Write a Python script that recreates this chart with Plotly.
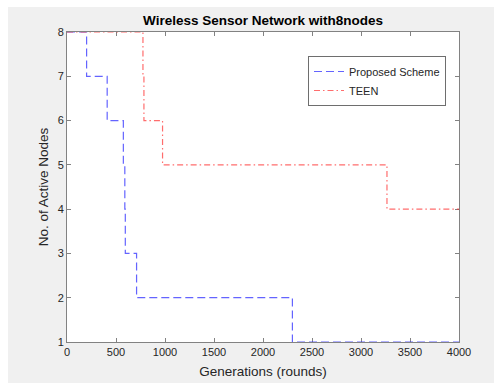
import plotly.graph_objects as go

# Data (stairs: value y[i] holds from x[i] to x[i+1])
proposed_x = [0, 200, 410, 575, 590, 595, 710, 2300, 4000]
proposed_y = [8, 7, 6, 5, 4, 3, 2, 1, 1]
teen_x = [0, 775, 785, 975, 3265, 4000]
teen_y = [8, 7, 6, 5, 4, 4]
x_ticks = [0, 500, 1000, 1500, 2000, 2500, 3000, 3500, 4000]
y_ticks = [1, 2, 3, 4, 5, 6, 7, 8]

W, H = 494, 383
L, R, T, B = 67, 35, 32, 41
pw, ph = W - L - R, H - T - B

fig = go.Figure()
fig.add_trace(go.Scatter(
    x=proposed_x, y=proposed_y, mode="lines", name="Proposed Scheme",
    line=dict(shape="hv", color="rgba(40,40,255,0.72)", width=1.2, dash="8px,4px"),
))
fig.add_trace(go.Scatter(
    x=teen_x, y=teen_y, mode="lines", name="TEEN",
    line=dict(shape="hv", color="rgba(255,40,40,0.68)", width=1.2, dash="6px,3px,1.5px,3px"),
))

axis_col = "#828282"
txt_col = "#262626"
font = "Liberation Sans, Arial, Helvetica, sans-serif"

# gray figure background with white strip on left and top
gx0 = (8 - L) / pw
gy1 = (H - B - 7) / ph
fig.add_shape(type="rect", xref="paper", yref="paper", x0=-1, x1=gx0, y0=-1, y1=2,
              fillcolor="white", line_width=0, layer="below")
fig.add_shape(type="rect", xref="paper", yref="paper", x0=-1, x1=2, y0=gy1, y1=2,
              fillcolor="white", line_width=0, layer="below")

fig.update_layout(
    width=W, height=H, autosize=False,
    margin=dict(l=L, r=R, t=T, b=B, pad=0),
    paper_bgcolor="#f0f0f0", plot_bgcolor="white",
    font=dict(family=font, size=11, color=txt_col),
    title=dict(text="<b>Wireless Sensor Network with8nodes</b>", x=(L + pw / 2) / W, xanchor="center",
               y=1 - 20 / H, yanchor="middle", font=dict(size=13.5, color="#000000")),
    showlegend=True,
    legend=dict(x=(308 - L) / pw, y=(H - B - 56) / ph, xanchor="left", yanchor="top",
                bgcolor="white", bordercolor="#6e6e6e", borderwidth=1,
                font=dict(size=11, color=txt_col), tracegroupgap=0),
    xaxis=dict(range=[0, 4000], tickvals=x_ticks, ticktext=[str(v) for v in x_ticks],
               showgrid=False, zeroline=False, showline=True, linecolor=axis_col, linewidth=1,
               mirror="ticks", ticks="inside", ticklen=4, tickcolor=axis_col, layer="below traces",
               tickfont=dict(size=11, color=txt_col), automargin=False,
               title=dict(text="Generations (rounds)", font=dict(size=13.5, color=txt_col), standoff=9)),
    yaxis=dict(range=[1, 8], tickvals=y_ticks, ticktext=[str(v) for v in y_ticks],
               showgrid=False, zeroline=False, showline=True, linecolor=axis_col, linewidth=1,
               mirror="ticks", ticks="inside", ticklen=4, tickcolor=axis_col, layer="below traces",
               tickfont=dict(size=11, color=txt_col), automargin=False,
               title=dict(text="No. of Active Nodes", font=dict(size=13.5, color=txt_col), standoff=5)),
)

fig.write_html("out.html")
